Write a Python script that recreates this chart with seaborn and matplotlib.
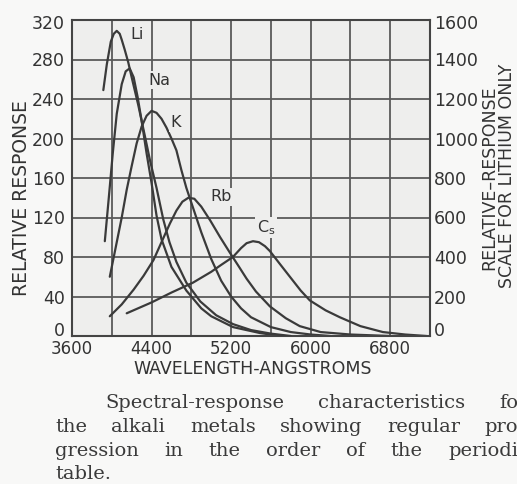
import matplotlib
matplotlib.use("Agg")
import matplotlib.pyplot as plt
import matplotlib.transforms as mtransforms
import seaborn as sns
import pandas as pd

# === DATA (wavelength in angstroms) ===
# lithium is read against the right-hand scale (0-1600)
WL_LI = [3915, 3950, 3990, 4020, 4050, 4080, 4100, 4130, 4166, 4200, 4266, 4334,
         4384, 4450, 4518, 4580, 4650, 4750, 4890, 5050, 5220, 5400, 5600, 5800]
LI = [1245, 1375, 1490, 1530, 1545, 1530, 1500, 1450, 1385, 1310, 1170, 1010,
      890, 750, 590, 475, 375, 270, 175, 105, 60, 30, 12, 0]

WL_NA = [3930, 3970, 4010, 4050, 4100, 4140, 4180, 4220, 4260, 4300, 4350, 4400,
         4450, 4500, 4600, 4750, 4900, 5000, 5220, 5490, 5700]
NA = [96, 140, 185, 225, 255, 268, 271, 262, 242, 218, 185, 155,
      122, 98, 70, 46, 28, 20, 9, 3, 0]

WL_K = [3980, 4050, 4100, 4150, 4200, 4250, 4300, 4350, 4400, 4450, 4500, 4550,
        4600, 4650, 4700, 4750, 4800, 4900, 5000, 5100, 5200, 5300, 5400, 5600,
        5800, 6000, 6200]
K = [60, 95, 120, 148, 172, 195, 212, 223, 228, 226, 220, 211,
     200, 188, 168, 150, 135, 105, 78, 56, 40, 28, 19, 9,
     4, 1.5, 0]

WL_RB = [3980, 4100, 4220, 4320, 4420, 4500, 4585, 4650, 4710, 4770, 4830, 4900,
         4990, 5090, 5190, 5280, 5356, 5450, 5590, 5750, 5890, 6100, 6400, 6800]
RB = [20, 32, 47, 61, 77, 95, 114, 127, 136, 140, 139, 131,
      117, 100, 84, 70, 58, 45, 30, 18, 10, 4, 1.5, 0]

WL_CS = [4150, 4400, 4600, 4816, 5000, 5100, 5218, 5300, 5356, 5420, 5480, 5540,
         5590, 5690, 5791, 5900, 5992, 6150, 6293, 6500, 6726, 6950, 7165]
CS = [23, 34, 44, 54, 65, 72, 80, 89, 94, 96, 95, 91,
      86, 73, 60, 46, 36, 26, 19, 10, 4, 1.5, 0]

X_TICKS = list(range(3600, 7201, 400))
X_LABELS = ['3600', '', '4400', '', '5200', '', '6000', '', '6800', '']
Y_TICKS = list(range(0, 321, 40))
Y2_TICKS = list(range(0, 1601, 200))

CAPTION = [
    "Spectral-response characteristics fo",
    "the alkali metals showing regular pro",
    "gression in the order of the periodi",
    "table.",
]

# === STYLE ===
W, H = 517, 484
PAPER = '#f8f8f7'
AX_BG = '#eeeeed'
INK = '#3a3a3a'
GRID = '#5a5a5a'
TXT = '#333333'

sns.set_theme(style="whitegrid")
plt.rcParams['font.family'] = ['DejaVu Sans']

fig = plt.figure(figsize=(W / 100, H / 100), dpi=100, facecolor=PAPER)
ax = fig.add_axes([72 / W, 1 - 336 / H, (430 - 72) / W, (336 - 20) / H])
ax.set_facecolor(AX_BG)

df = pd.concat([
    pd.DataFrame({'wl': WL_NA, 'resp': NA, 'metal': 'Na'}),
    pd.DataFrame({'wl': WL_K, 'resp': K, 'metal': 'K'}),
    pd.DataFrame({'wl': WL_RB, 'resp': RB, 'metal': 'Rb'}),
    pd.DataFrame({'wl': WL_CS, 'resp': CS, 'metal': 'Cs'}),
], ignore_index=True)

sns.lineplot(data=df, x='wl', y='resp', units='metal', estimator=None, sort=False,
             color=INK, lw=1.6, ax=ax, legend=False)

ax.set_xlim(3600, 7200)
ax.set_ylim(0, 320)
ax.set_xticks(X_TICKS)
ax.set_xticklabels(X_LABELS)
ax.set_yticks(Y_TICKS)
ax.grid(True, color=GRID, lw=1.3)
ax.tick_params(length=0, labelsize=12.5, labelcolor=TXT)
ax.tick_params(axis='x', pad=3, labelsize=12)
ax.tick_params(axis='y', pad=5)
ax.set_xlabel('')
ax.set_ylabel('')
for s in ax.spines.values():
    s.set_color('#444444')
    s.set_linewidth(1.5)

# lithium on its own scale
ax2 = ax.twinx()
sns.lineplot(x=WL_LI, y=LI, color=INK, lw=1.6, ax=ax2, sort=False, estimator=None)
ax2.set_ylim(0, 1600)
ax2.set_yticks(Y2_TICKS)
ax2.grid(False)
ax2.patch.set_visible(False)
ax2.tick_params(length=0, labelsize=12.5, labelcolor=TXT, pad=3)
for s in ax2.spines.values():
    s.set_visible(False)

# the scan prints the end numbers just inside the frame
up = mtransforms.ScaledTranslation(0, 7 / 100, fig.dpi_scale_trans)
down = mtransforms.ScaledTranslation(0, -2 / 100, fig.dpi_scale_trans)
for labels in (ax.get_yticklabels(), ax2.get_yticklabels()):
    labels[0].set_transform(labels[0].get_transform() + up)
    labels[-1].set_transform(labels[-1].get_transform() + down)

# curve names
lab = dict(fontsize=11.5, color=TXT, ha='center', va='center',
           bbox=dict(facecolor=AX_BG, edgecolor='none', pad=1.0))
ax.text(4253, 305, 'Li', **lab)
ax.text(4474, 259, 'Na', **lab)
ax.text(4645, 216, 'K', **lab)
ax.text(5097, 141, 'Rb', **lab)
ax.text(5550, 110, r'C$_{\mathrm{s}}$', **lab)

# axis titles
fig.text(22 / W, 1 - 198 / H, 'RELATIVE RESPONSE', rotation=90, ha='center', va='center',
         fontsize=13.5, color=TXT)
fig.text(253 / W, 1 - 369 / H, 'WAVELENGTH-ANGSTROMS', ha='center', va='center',
         fontsize=12.5, color=TXT)
fig.text(489 / W, 1 - 178 / H, 'RELATIVE\u2013RESPONSE', rotation=90, ha='center', va='center',
         fontsize=12.5, color=TXT)
fig.text(507 / W, 1 - 176 / H, 'SCALE FOR LITHIUM ONLY', rotation=90, ha='center', va='center',
         fontsize=12.5, color=TXT)

# caption, justified word by word
fig.canvas.draw()
r = fig.canvas.get_renderer()
cap = dict(fontsize=14, color='#3a3a3a', family='DejaVu Serif', va='baseline')
for line, x0, base in zip(CAPTION, [105, 55, 55, 55], [408, 432, 456, 479]):
    words = line.split()
    texts = [fig.text(0, 1 - base / H, w, **cap) for w in words]
    widths = [t.get_window_extent(r).width for t in texts]
    gap = (518 - x0 - sum(widths)) / (len(words) - 1) if len(words) > 1 else 0
    x = x0
    for t, w in zip(texts, widths):
        t.set_x(x / W)
        x += w + gap

fig.savefig('out.png', dpi=100, facecolor=PAPER)
